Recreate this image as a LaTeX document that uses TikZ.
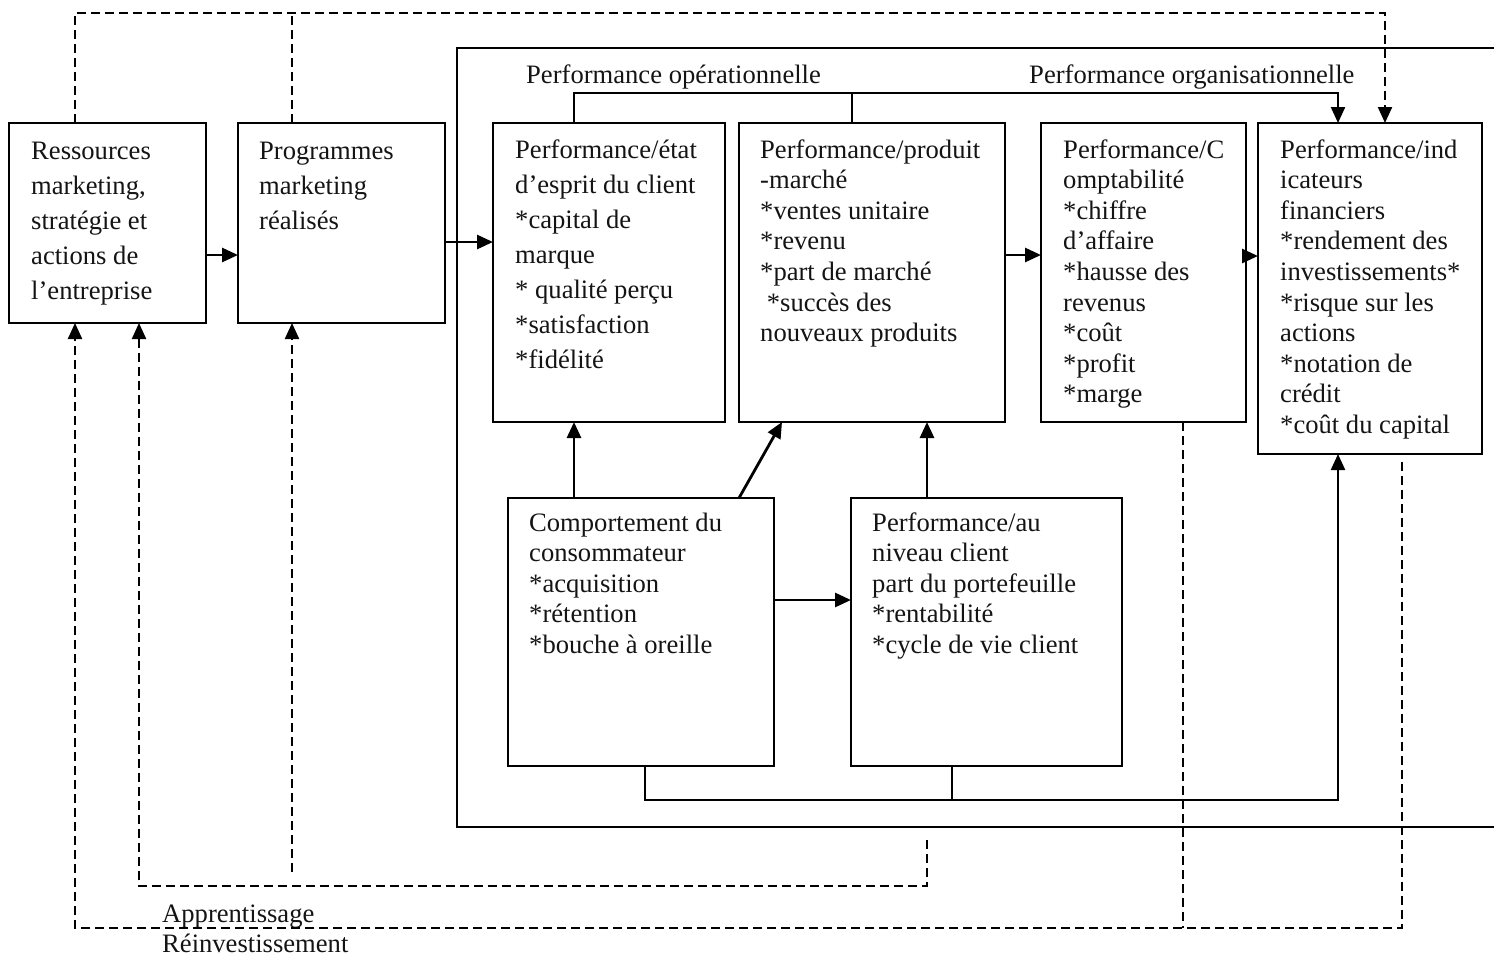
\documentclass[tikz,border=0pt]{standalone}
\usepackage{fontspec}
\setmainfont{Liberation Serif}
\usetikzlibrary{arrows.meta}
\begin{document}
\begin{tikzpicture}[x=1pt,y=-1pt,
  box/.style={draw, line width=2.2pt, rectangle, anchor=north west, inner sep=0pt, outer sep=0pt},
  % multi-line texts: the base anchor sits on the last line
  txt/.style={anchor=base west, align=left, inner sep=0pt, text=black!92, font=\fontsize{26.6}{30.6}\selectfont},
  loose/.style={font=\fontsize{26.6}{35}\selectfont},
  link/.style={line width=2.2pt},
  arr/.style={line width=2.8pt, -{Triangle[length=16pt,width=14pt]}},
  dsh/.style={line width=2.2pt, dash pattern=on 9pt off 5pt},
]
\useasboundingbox (0,0) rectangle (1494,956);

% frame around the performance measures (open on the right)
\draw[link] (1494,48) -- (457,48) -- (457,827) -- (1494,827);

% boxes
\node[box, minimum width=197pt, minimum height=200pt] (b1) at (9,123) {};
\node[box, minimum width=207pt, minimum height=200pt] (b2) at (238,123) {};
\node[box, minimum width=232pt, minimum height=299pt] (b3) at (493,123) {};
\node[box, minimum width=266pt, minimum height=299pt] (b4) at (739,123) {};
\node[box, minimum width=205pt, minimum height=299pt] (b5) at (1041,123) {};
\node[box, minimum width=224pt, minimum height=331pt] (b6) at (1258,123) {};
\node[box, minimum width=266pt, minimum height=268pt] (b7) at (508,498) {};
\node[box, minimum width=271pt, minimum height=268pt] (b8) at (851,498) {};

% box texts
\node[txt, loose] (t1) at (31,299) {Ressources\\marketing,\\stratégie et\\actions de\\l’entreprise};
\node[txt, loose] (t2) at (259,229) {Programmes\\marketing\\réalisés};
\node[txt, loose] (t3) at (515,368) {Performance/état\\d’esprit du client\\*capital de\\marque\\* qualité perçu\\*satisfaction\\*fidélité};
\node[txt] (t4) at (760,341.6) {Performance/produit\\-marché\\*ventes unitaire\\*revenu\\*part de marché\\~*succès des\\nouveaux produits};
\node[txt] (t5) at (1063,402.8) {Performance/C\\omptabilité\\*chiffre\\d’affaire\\*hausse des\\revenus\\*coût\\*profit\\*marge};
\node[txt] (t6) at (1280,433.4) {Performance/ind\\icateurs\\financiers\\*rendement des\\investissements*\\*risque sur les\\actions\\*notation de\\crédit\\*coût du capital};
\node[txt] (t7) at (529,653.4) {Comportement du\\consommateur\\*acquisition\\*rétention\\*bouche à oreille};
\node[txt] (t8) at (872,653.4) {Performance/au\\niveau client\\part du portefeuille\\*rentabilité\\*cycle de vie client};

% free labels
\node[txt] (lop) at (526,83) {Performance opérationnelle};
\node[txt] (lor) at (1029,83) {Performance organisationnelle};
\node[txt] (lap) at (162,922) {Apprentissage};
\node[txt] (lre) at (162,952) {Réinvestissement};

% routing points
\coordinate (kA) at (574,93);
\coordinate (kB) at (852,93);
\coordinate (kC) at (1338,93);
\coordinate (dl) at (75,13);
\coordinate (dm) at (292,13);
\coordinate (dn) at (1385,13);
\coordinate (dg1) at (739,498);
\coordinate (dg2) at (782,422);
\coordinate (kD) at (927,0);
\coordinate (bA) at (645,800);
\coordinate (bB) at (952,800);
\coordinate (bC) at (1338,800);
\coordinate (fA) at (1402,462);
\coordinate (fB) at (1402,928);
\coordinate (fC) at (75,928);
\coordinate (fD) at (1183,928);
\coordinate (gA) at (927,840);
\coordinate (gB) at (927,886);
\coordinate (gC) at (139,886);
\coordinate (hA) at (292,872);

% main flow
\draw[arr] ([yshift=-32pt]b1.east) -- ([yshift=-32pt]b1.east -| b2.west);
\draw[arr] ([yshift=-19pt]b2.east) -- ([yshift=-19pt]b2.east -| b3.west);
\draw[arr] ([yshift=17.5pt]b4.east) -- ([yshift=17.5pt]b4.east -| b5.west);
\draw[arr] ([yshift=16.5pt]b5.east) -- ([yshift=16.5pt]b5.east -| b6.west);

% operational / organisational link
\draw[arr, line width=2.2pt] (kA |- b3.north) -- (kA) -- (kC) -- (kC |- b6.north);
\draw[link] (kB |- b4.north) -- (kB);

% upper dashed loop
\draw[dsh, arr, line width=2.2pt] (dl |- b1.north) -- (dl) -- (dn) -- (dn |- b6.north);
\draw[dsh] (dm |- b2.north) -- (dm);

% customer level links
\draw[arr] (kA |- b7.north) -- (kA |- b3.south);
\draw[arr] (dg1) -- (dg2);
\draw[arr] (kD |- b8.north) -- (kD |- b4.south);
\draw[arr] ([yshift=32pt]b7.east) -- ([yshift=32pt]b7.east -| b8.west);

% bottom bus to financial indicators
\draw[arr, line width=2.2pt] (bA |- b7.south) -- (bA) -- (bC) -- (bC |- b6.south);
\draw[link] (bB |- b8.south) -- (bB);

% lower dashed feedback loops
\draw[dsh, arr, line width=2.2pt] (fA) -- (fB) -- (fC) -- (fC |- b1.south);
\draw[dsh] (fD |- b5.south) -- (fD);
\draw[dsh, arr, line width=2.2pt] (gA) -- (gB) -- (gC) -- (gC |- b1.south);
\draw[dsh, arr, line width=2.2pt] (hA) -- (hA |- b2.south);
\end{tikzpicture}
\end{document}
